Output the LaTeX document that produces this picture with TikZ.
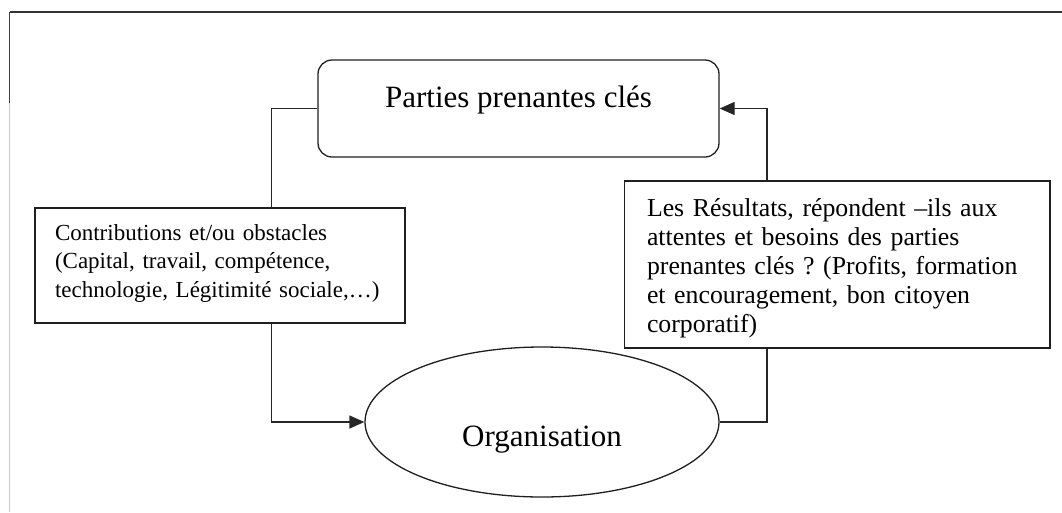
\documentclass[tikz,border=0pt]{standalone}
\usepackage{fontspec}
\setmainfont{Liberation Serif}
\usetikzlibrary{arrows.meta,shapes.geometric}
\frenchspacing
\begin{document}
\begin{tikzpicture}[x=1pt,y=-1pt,
  line/.style={draw=black!88, line width=1.3pt},
  link/.style={draw=black!85, line width=1.3pt},
  linkarrow/.style={link, -{Triangle[length=15pt,width=13pt]}},
  keybox/.style={line, rounded corners=14pt, minimum width=401pt, minimum height=97pt,
    inner sep=0pt, text height=20pt, text depth=23pt, font=\fontsize{31}{37}\selectfont},
  orgshape/.style={line, ellipse, minimum width=354pt, minimum height=150pt,
    inner sep=0pt, text height=60pt, text depth=12pt, font=\fontsize{31}{37}\selectfont},
  notebox/.style={line, rectangle, align=left, inner ysep=0pt}
]
% page extent
\useasboundingbox (0,0) rectangle (1062,512);

% frame around the figure
\draw[draw=black!80, line width=1.5pt] (9.5,12) -- (1062,12);
\draw[draw=black!75, line width=1.5pt] (9.5,12) -- (9.5,103);
\draw[draw=black!22, line width=1.5pt] (9.5,103) -- (9.5,512);

% main blocks
\node[keybox] (key) at (518.5,108.5) {Parties prenantes clés};
\node[orgshape] (org) at (542,422) {Organisation};
\node[notebox, minimum width=370pt, minimum height=115pt, inner xsep=20pt,
      text width=330pt, text height=20pt, text depth=71pt,
      font=\fontsize{23}{28.5}\selectfont] (contrib) at (220,265.5)
  {Contributions et/ou obstacles\\(Capital, travail, compétence,\\technologie, Légitimité sociale,…)};
\node[notebox, minimum width=425.5pt, minimum height=167pt, inner xsep=22.5pt,
      text width=380.5pt, text height=22pt, text depth=119pt,
      font=\fontsize{25.8}{29}\selectfont] (res) at (837.25,264.5)
  {Les Résultats, répondent –ils aux\\attentes et besoins des parties\\prenantes clés ? (Profits, formation\\et encouragement, bon citoyen\\corporatif)};

% routing columns of the loop
\coordinate (lx) at (271.5,0);
\coordinate (rx) at (767,0);

% loop connectors
\draw[link] (key.west) -| (contrib.north -| lx);
\draw[linkarrow] (contrib.south -| lx) |- (org.west);
\draw[link] (org.east) -| (res.south -| rx);
\draw[linkarrow] (res.north -| rx) |- (key.east);
\end{tikzpicture}
\end{document}
